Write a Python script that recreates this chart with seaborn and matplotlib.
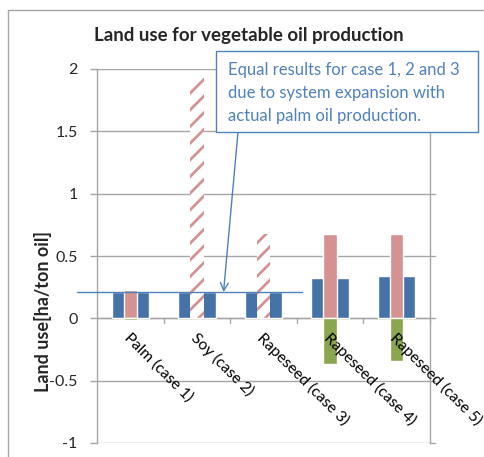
import matplotlib
matplotlib.use("Agg")
import matplotlib.pyplot as plt
from matplotlib.patches import Rectangle
from matplotlib.lines import Line2D
import seaborn as sns
import pandas as pd

# Land use per ton of vegetable oil for each case
categories = ["Palm (case 1)", "Soy (case 2)", "Rapeseed (case 3)",
              "Rapeseed (case 4)", "Rapeseed (case 5)"]
net_land_use = [0.21, 0.21, 0.21, 0.32, 0.34]       # blue bars
direct_land_use = [0.23, 1.93, 0.68, 0.68, 0.68]    # pink bars
avoided_land_use = [-0.01, 0.0, 0.0, -0.37, -0.34]  # green bars
hatched = [False, True, True, False, False]        # displaced crops shown hatched
reference_level = 0.21
yticks = [-1, -0.5, 0, 0.5, 1, 1.5, 2]
ytick_labels = ["-1", "-0.5", "0", "0.5", "1", "1.5", "2"]

BLUE = "#4572A7"
PINK = "#D49392"
GREEN = "#8AA64E"
NOTE = "#4F81BD"
GRID = "#A6A6A6"

df = pd.DataFrame({"case": categories, "net": net_land_use,
                   "direct": direct_land_use, "avoided": avoided_land_use})

sns.set_style("white")
plt.rcParams["font.family"] = ["Lato", "DejaVu Sans"]
plt.rcParams["hatch.linewidth"] = 2.0

W, H = 484, 457
fig = plt.figure(figsize=(W / 100, H / 100), dpi=100)
ax = fig.add_axes([97 / W, 1 - 443 / H, (430 - 97) / W, (443 - 69) / H])

sns.barplot(data=df, x="case", y="net", color=BLUE, width=0.56,
            saturation=1, errorbar=None, ax=ax, zorder=2)
sns.barplot(data=df, x="case", y="direct", color=PINK, width=0.2,
            saturation=1, errorbar=None, ax=ax, zorder=3)
sns.barplot(data=df, x="case", y="avoided", color=GREEN, width=0.2,
            saturation=1, errorbar=None, ax=ax, zorder=3)

n = len(categories)
pink_bars = ax.patches[n:2 * n]
for bar, h in zip(pink_bars, hatched):
    if h:
        bar.set_facecolor("white")
        bar.set_edgecolor(PINK)
        bar.set_linewidth(0)
        bar.set_hatch("//")

ax.set_ylim(-1, 2)
ax.set_xlim(-0.5, n - 0.5)
ax.set_yticks(yticks)
ax.set_yticklabels(ytick_labels, fontsize=11.5)
ax.set_xticks([])
ax.set_xlabel("")
ax.set_ylabel("")
ax.yaxis.grid(True, color=GRID, linewidth=1)
ax.set_axisbelow(True)
ax.tick_params(axis="y", length=5, width=1, color=GRID, left=True, pad=9)

for s in ["top", "bottom"]:
    ax.spines[s].set_visible(False)
for s in ["left", "right"]:
    ax.spines[s].set_color(GRID)
    ax.spines[s].set_linewidth(1)

# secondary-axis tick marks on the right side
for y in yticks:
    ax.plot([1, 1.015], [y, y], transform=ax.get_yaxis_transform(),
            color=GRID, lw=1, clip_on=False)

# category axis at zero with boundary ticks
ax.axhline(0, color=GRID, lw=1, zorder=1)
for b in range(1, n + 1):
    ax.plot([b - 0.5, b - 0.5], [0, -0.04], color=GRID, lw=1, clip_on=False)

for i, label in enumerate(categories):
    ax.annotate(label, xy=(i, 0), xytext=(1, -9), textcoords="offset points",
                rotation=-45, ha="left", va="top", rotation_mode="anchor",
                fontsize=11.3, color="black")

# common level for cases 1-3
ax.plot([-0.8, 2.58], [reference_level, reference_level], color=NOTE,
        lw=1, clip_on=False, zorder=5)

# note box with arrow
fig.add_artist(Rectangle((216 / W, 1 - 132 / H), (478 - 216) / W, (132 - 51) / H,
                         transform=fig.transFigure, facecolor="white",
                         edgecolor=NOTE, lw=1, zorder=6))
note_lines = ["Equal results for case 1, 2 and 3",
              "due to system expansion with",
              "actual palm oil production."]
for k, line in enumerate(note_lines):
    fig.text(228 / W, 1 - (70 + 23 * k) / H, line, color=NOTE, fontsize=12,
             ha="left", va="center", zorder=7)
ax.annotate("", xy=(1.4, reference_level), xycoords="data",
            xytext=(238 / W, 1 - 132 / H), textcoords="figure fraction",
            arrowprops=dict(arrowstyle="->", color=NOTE, lw=1,
                            shrinkA=0, shrinkB=0, mutation_scale=14),
            zorder=7)

fig.text(249 / W, 1 - 35 / H, "Land use for vegetable oil production",
         ha="center", va="center", fontsize=13.5, fontweight="bold")
fig.text(43 / W, 1 - 311 / H, "Land use[ha/ton oil]", ha="center", va="center",
         rotation=90, fontsize=13, fontweight="bold")

# chart frame
fig.add_artist(Line2D([8 / W, 8 / W], [0, 1 - 10 / H], transform=fig.transFigure,
                      color=GRID, lw=1))
fig.add_artist(Line2D([8 / W, 1], [1 - 10 / H, 1 - 10 / H],
                      transform=fig.transFigure, color=GRID, lw=1))

fig.savefig("out.png", dpi=100)
